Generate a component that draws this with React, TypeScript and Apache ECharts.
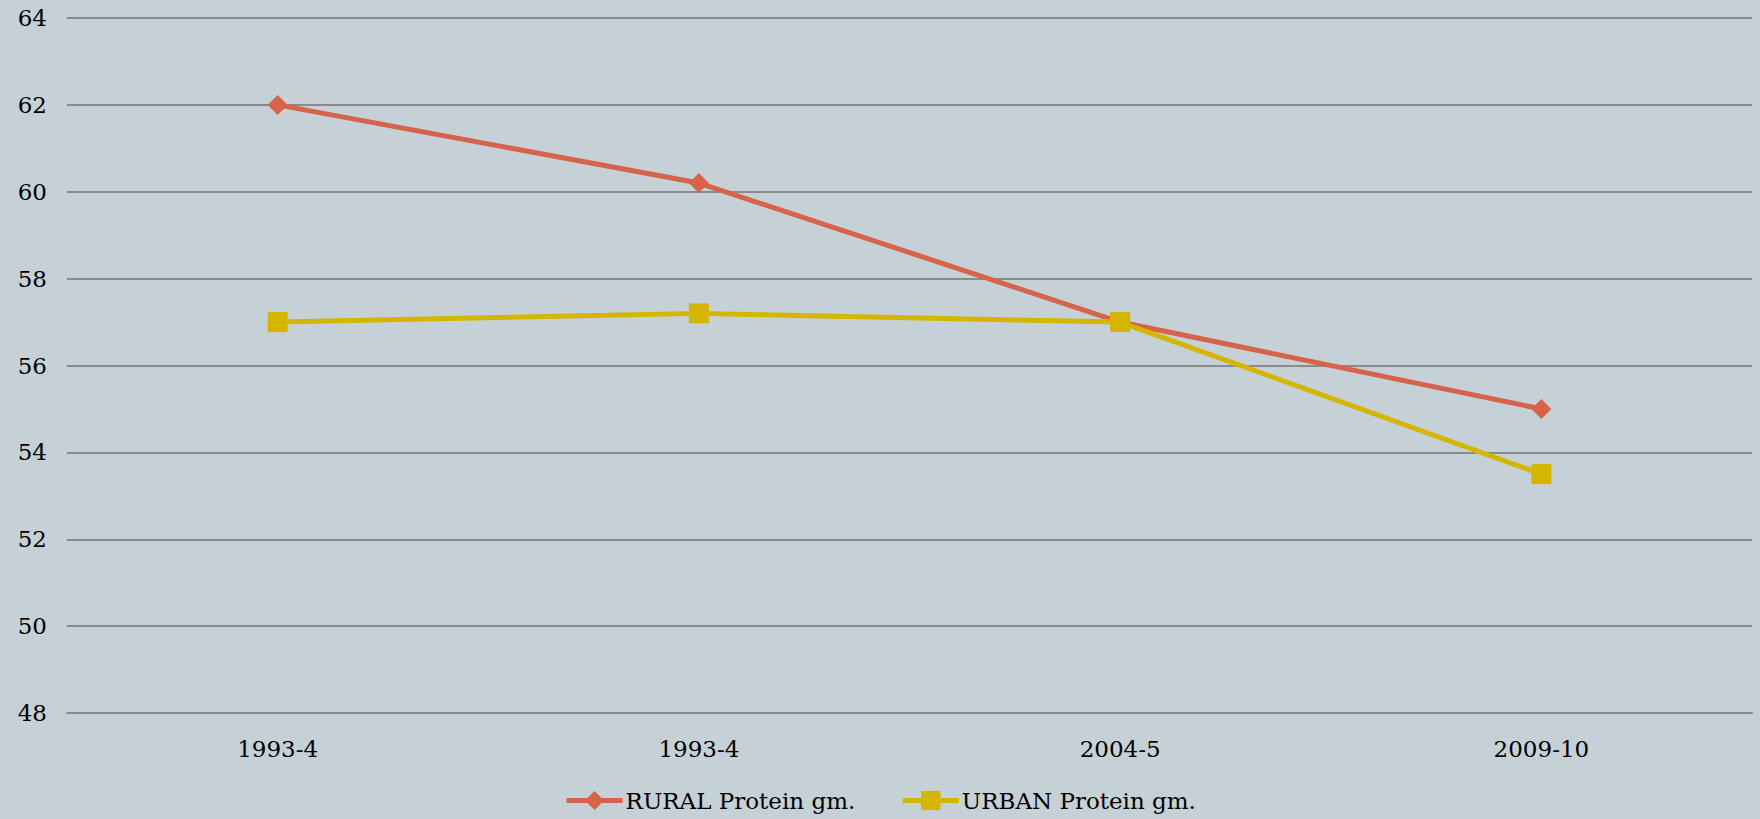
import React, { useEffect, useRef } from "react";
import * as echarts from "echarts";

const categories = ["1993-4", "1993-4", "2004-5", "2009-10"];
const ruralValues = [62, 60.2, 57, 55];
const urbanValues = [57, 57.2, 57, 53.5];
const ruralName = "RURAL Protein gm.";
const urbanName = "URBAN Protein gm.";

const FONT = "'DejaVu Serif', serif";
const FS = 23;

export default function App() {
  const ref = useRef<HTMLDivElement>(null);
  useEffect(() => {
    if (!ref.current) return;
    const chart = echarts.init(ref.current, null, { renderer: "svg" });
    chart.setOption({
      animation: false,
      backgroundColor: "#C5D1D7",
      textStyle: { fontFamily: FONT },
      grid: { left: 67, right: 8, top: 18, bottom: 106, containLabel: false },
      legend: {
        bottom: 2,
        left: "center",
        itemWidth: 56,
        itemHeight: 24,
        itemGap: 45,
        lineStyle: { width: 5 },
        textStyle: { fontFamily: FONT, fontSize: FS, color: "#000", padding: [0, 0, 0, -2] },
        data: [ruralName, urbanName],
      },
      xAxis: {
        type: "category",
        data: categories,
        boundaryGap: true,
        axisLine: { show: true, lineStyle: { color: "#8a8a8a", width: 2 } },
        axisTick: { show: false },
        axisLabel: { fontFamily: FONT, fontSize: FS, color: "#000", margin: 24 },
      },
      yAxis: {
        type: "value",
        min: 48,
        max: 64,
        interval: 2,
        axisLine: { show: false },
        axisTick: { show: false },
        axisLabel: { fontFamily: FONT, fontSize: FS, color: "#000", margin: 20 },
        splitLine: { lineStyle: { color: "#8a8a8a", width: 2 } },
      },
      series: [
        {
          name: ruralName,
          type: "line",
          data: ruralValues,
          symbol: "diamond",
          symbolSize: 20,
          lineStyle: { color: "#D6634A", width: 5 },
          itemStyle: { color: "#D6634A" },
        },
        {
          name: urbanName,
          type: "line",
          data: urbanValues,
          symbol: "rect",
          symbolSize: 20,
          lineStyle: { color: "#D4B600", width: 5 },
          itemStyle: { color: "#D4B600" },
        },
      ],
    });
    return () => chart.dispose();
  }, []);
  return (
    <div
      ref={ref}
      style={{ position: "fixed", left: 0, top: 0, width: 1760, height: 819 }}
    />
  );
}
